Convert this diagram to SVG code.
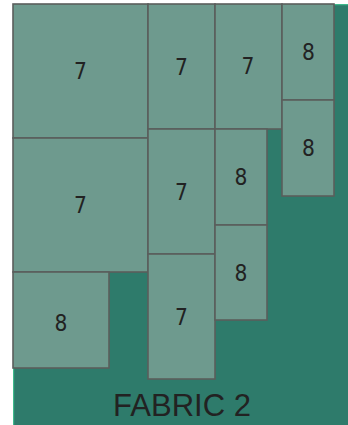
<svg xmlns="http://www.w3.org/2000/svg" width="348" height="425" viewBox="0 0 348 425">
  <style>
    .bg { fill: #2e7b6b; }
    .edge { stroke: #3fb98c; stroke-width: 1.2; fill: none; }
    .piece rect { fill: #6e9a8e; stroke: #5a5e5c; stroke-width: 1.6; }
    .piece text { font-family: "DejaVu Sans Condensed", "DejaVu Sans", sans-serif; font-stretch: condensed; font-size: 22.5px; fill: #222; text-anchor: middle; dominant-baseline: central; }
    .title { font-family: "Liberation Sans", "Open Sans", sans-serif; font-size: 31px; fill: #222; text-anchor: middle; }
  </style>
  <rect class="bg" x="13" y="4" width="335" height="421"/>
  <path class="edge" d="M13.6 425 V4.6 H348"/>
  <g id="p1" class="piece"><rect x="13" y="4" width="135" height="134"/><text x="80.5" y="71">7</text></g>
  <g id="p2" class="piece"><rect x="13" y="138" width="135" height="134"/><text x="80.5" y="205">7</text></g>
  <g id="p3" class="piece"><rect x="13" y="272" width="96" height="96"/><text x="61" y="323">8</text></g>
  <g id="p4" class="piece"><rect x="148" y="4" width="67" height="125"/><text x="181.5" y="66.5">7</text></g>
  <g id="p5" class="piece"><rect x="148" y="129" width="67" height="125"/><text x="181.5" y="191.5">7</text></g>
  <g id="p6" class="piece"><rect x="148" y="254" width="67" height="125"/><text x="181.5" y="316.5">7</text></g>
  <g id="p7" class="piece"><rect x="215" y="4" width="67" height="125"/><text x="248" y="66">7</text></g>
  <g id="p8" class="piece"><rect x="215" y="129" width="52" height="96"/><text x="241" y="177">8</text></g>
  <g id="p9" class="piece"><rect x="215" y="225" width="52" height="95"/><text x="241" y="273">8</text></g>
  <g id="p10" class="piece"><rect x="282" y="4" width="52" height="96"/><text x="308.5" y="52">8</text></g>
  <g id="p11" class="piece"><rect x="282" y="100" width="52" height="96"/><text x="308.5" y="147.5">8</text></g>
  <g id="connectors"/>
  <text class="title" x="182" y="416">FABRIC 2</text>
</svg>
